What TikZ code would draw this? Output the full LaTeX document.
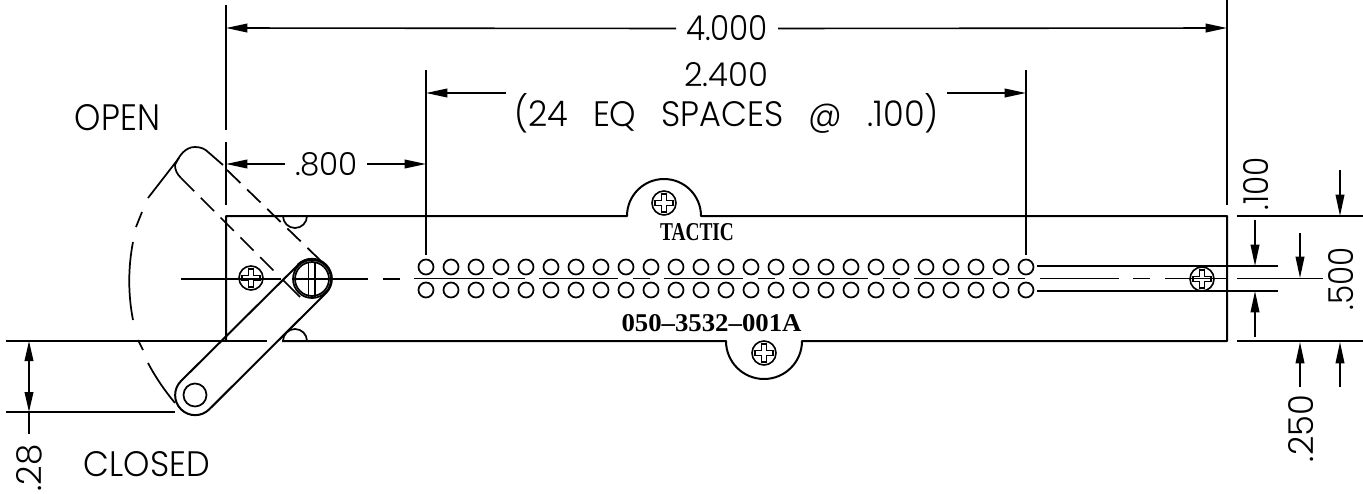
\documentclass[tikz,border=0pt]{standalone}
\usepackage{fontspec}
\usepackage{graphicx}
\setmainfont{Poppins Light}
\newfontfamily\plate{Liberation Serif}[BoldFont=* Bold]
\usetikzlibrary{arrows.meta}
\newcommand{\cadtext}[3]{\resizebox{#1\dimexpr 0.75pt\relax}{#2\dimexpr 0.75pt\relax}{\fontsize{24}{24}\selectfont #3}}
\newcommand{\platetext}[3]{\resizebox{#1\dimexpr 0.75pt\relax}{#2\dimexpr 0.75pt\relax}{\fontsize{16}{16}\selectfont\plate\bfseries #3}}
\tikzset{
  outline/.style={line width=1.5pt,line cap=butt,line join=round},
  thinline/.style={line width=1.3pt},
  dimline/.style={line width=1.2pt,-{Triangle[length=16pt,width=6.5pt]}},
  bidim/.style={line width=1.2pt,{Triangle[length=15pt,width=6.5pt]}-{Triangle[length=15pt,width=6.5pt]}},
  ghost/.style={line width=1.3pt,dash pattern=on 14pt off 7pt},
  label/.style={inner sep=0pt,outer sep=0pt,black},
  screwhead/.pic={
    \draw[line width=1.2pt] (0,0) circle (12);
    \draw[line width=1pt] (-2.5,-9) -- (2.5,-9) -- (2.5,-2.5) -- (9,-2.5) -- (9,2.5) -- (2.5,2.5) -- (2.5,9) -- (-2.5,9) -- (-2.5,2.5) -- (-9,2.5) -- (-9,-2.5) -- (-2.5,-2.5) -- cycle;
  }
}
\begin{document}
\begin{tikzpicture}[x=0.75pt,y=-0.75pt]
\useasboundingbox (0,0) rectangle (1363,493);

% plate outline with mounting ears
\draw[outline] (226,341) -- (226,216) -- (627,216) arc[start angle=180,end angle=360,radius=37] -- (1227,216) -- (1227,341) -- (802,341) arc[start angle=0,end angle=180,radius=38] -- (282,341);
\draw[outline] (6,341) -- (267,341);
\draw[outline] (1237,216) -- (1363,216);
\draw[outline] (1237,341) -- (1363,341);

% small notches
\draw[thinline] (283,216) arc[start angle=180,end angle=0,radius=12];
\draw[thinline] (283,341) arc[start angle=180,end angle=360,radius=12];

% screws
\pic at (664,203) {screwhead};
\pic at (764,353) {screwhead};
\pic at (251,278) {screwhead};
\pic at (1202,279) {screwhead};

% holes
\foreach \i in {0,...,24} {
  \draw[thinline] ({426+25*\i},267) circle (7.5);
  \draw[thinline] ({426+25*\i},290) circle (7.5);
}

% centre lines
\draw[thinline] (181,279) -- (281,279);
\draw[thinline] (294,279) -- (368,279);
\draw[thinline] (383,279) -- (400,279);
\foreach \i in {0,...,4} {
  \draw[thinline] ({414+125*\i},278.5) -- ({493+125*\i},278.5);
  \draw[thinline] ({508+125*\i},278.5) -- ({525+125*\i},278.5);
}
\draw[thinline] (1040,278.5) -- (1119,278.5);
\draw[thinline] (1133,278.5) -- (1150,278.5);
\draw[thinline] (1165,278.5) -- (1227,278.5);
\draw[thinline] (1237,278.5) -- (1323,278.5);
\draw[thinline] (1037,266) -- (1278,266);
\draw[thinline] (1037,291) -- (1278,291);

% lever, closed position
\draw[outline] (298,265) -- (181,381) arc[start angle=225,end angle=45,radius=20] -- (326,293) arc[start angle=45,end angle=-135,radius=20];
\draw[thinline] (195,395) circle (11.5);
\draw[thinline] (312,279) circle (17);
\draw[thinline] (312,279) circle (19);
\draw[thinline] (308.5,263) -- (308.5,297);
\draw[thinline] (315,263) -- (315,297);
\draw[thinline] (283,280) -- (300,297);

% lever, open position
\draw[thinline] (181,178) .. controls (177,174) and (175,170) .. (175,165) .. controls (179,156) and (185,147) .. (195,147) .. controls (201,147) and (205,149) .. (208,152) -- (223,165);
\draw[ghost] (181,178) -- (279,276);
\draw[ghost] (227,170) -- (322,262);

% swing arc
\draw[thinline] (179,158) -- (148,198);
\draw[thinline] (142,212) -- (136,227);
\draw[thinline] (133,242) .. controls (128,268) and (128,294) .. (133,320);
\draw[thinline] (138,340) -- (143,350);
\draw[thinline] (148,363) .. controls (156,378) and (165,391) .. (175,403);

% extension lines
\draw[thinline] (226,5) -- (226,130);
\draw[thinline] (226,142) -- (226,205);
\draw[thinline] (1227,0) -- (1227,205);
\draw[thinline] (426,70) -- (426,255);
\draw[thinline] (1026,70) -- (1026,255);
\draw[thinline] (6,412) -- (175,412);

% text
\node[label] (d4000) at (727,28.5) {\cadtext{82}{25}{4.000}};
\node[label] (d2400) at (726,75) {\cadtext{84}{24}{2.400}};
\node[label] (dsp) at (726.5,113) {\cadtext{425}{33}{\spaceskip=0.75em (24 EQ SPACES @ .100)}};
\node[label] (d800) at (326.5,164.5) {\cadtext{63}{23}{.800}};
\node[label] (open) at (117.5,118) {\cadtext{85}{26}{OPEN}};
\node[label] (closed) at (147,464.5) {\cadtext{126}{25}{CLOSED}};
\node[label,rotate=90] (d100) at (1256,183.5) {\cadtext{53}{25}{.100}};
\node[label,rotate=90] (d500) at (1341,278.5) {\cadtext{63}{25}{.500}};
\node[label,rotate=90] (d250) at (1301,428.5) {\cadtext{67}{25}{.250}};
\node[label,rotate=90] (d28) at (29,468) {\cadtext{47}{25}{.28}};
\node[label] (tactic) at (697,232.5) {\platetext{74}{17}{TACTIC}};
\node[label] (part) at (711.5,323.5) {\platetext{180}{17}{050–3532–001A}};

% dimension arrows
\coordinate (L4) at (226,28); \coordinate (R4) at (1227,28);
\draw[dimline] (d4000.west) ++(-10,0) -- (L4);
\draw[dimline] (d4000.east) ++(10,0) -- (R4);
\draw[dimline] (506,93) -- (426,93);
\draw[dimline] (947,93) -- (1026,93);
\draw[dimline] (285,164) -- (226,164);
\draw[dimline] (367,164) -- (426,164);
\draw[bidim] (29,341) -- (29,412);
\draw[thinline] (29,412) -- (29,434);
\draw[dimline] (1255,220) -- (1255,266);
\draw[dimline] (1255,337) -- (1255,291);
\draw[dimline] (1300,233) -- (1300,278);
\draw[dimline] (1300,387) -- (1300,342);
\draw[dimline] (1340,170) -- (1340,216);
\draw[dimline] (1340,387) -- (1340,342);
\end{tikzpicture}
\end{document}
